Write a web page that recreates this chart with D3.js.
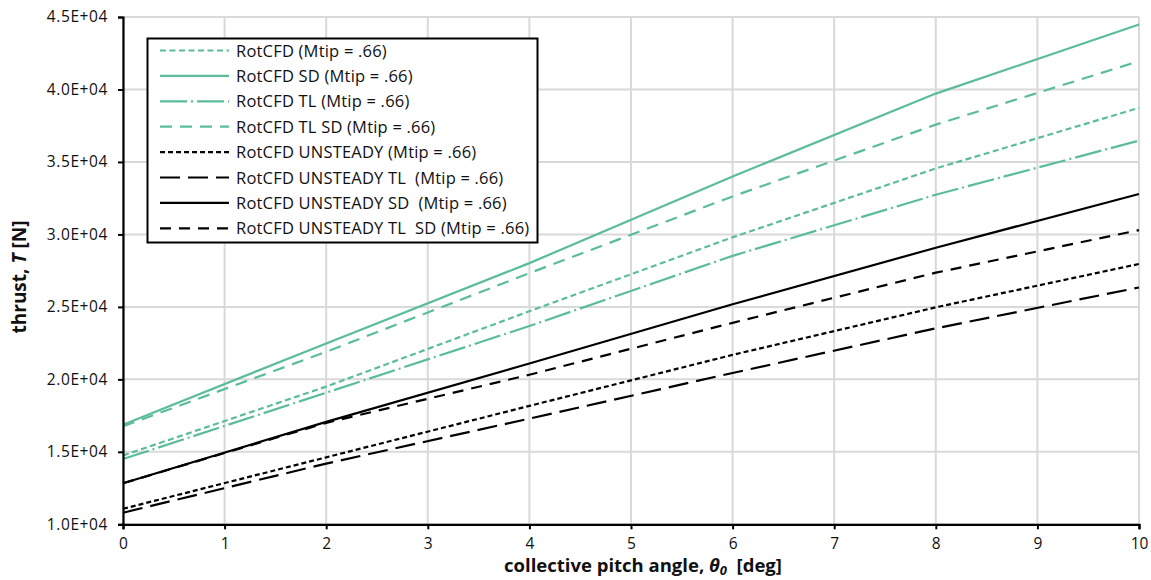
<!DOCTYPE html>
<html><head><meta charset="utf-8">
<script src="https://cdn.jsdelivr.net/npm/d3@7"></script>
<style>
body{margin:0;background:#fff;}
svg{display:block;}
</style></head>
<body>
<svg id="c" width="1151" height="580"></svg>
<script>
// ---- data ----
const pitch = [0, 2, 4, 6, 8, 10];
const rotcfd       = [14750, 19500, 24700, 29800, 34550, 38730];
const rotcfdSD     = [16870, 22480, 28020, 34000, 39716, 44480];
const rotcfdTL     = [14500, 19080, 23680, 28520, 32740, 36470];
const rotcfdTLSD   = [16760, 21900, 27330, 32620, 37575, 41950];
const unsteady     = [11070, 14620, 18170, 21690, 24970, 27960];
const unsteadyTL   = [10800, 14190, 17290, 20440, 23520, 26340];
const unsteadySD   = [12830, 17070, 21090, 25180, 29080, 32790];
const unsteadyTLSD = [12830, 17000, 20320, 23900, 27360, 30300];
const seriesNames = [
  "RotCFD (Mtip = .66)",
  "RotCFD SD (Mtip = .66)",
  "RotCFD TL (Mtip = .66)",
  "RotCFD TL SD (Mtip = .66)",
  "RotCFD UNSTEADY (Mtip = .66)",
  "RotCFD UNSTEADY TL  (Mtip = .66)",
  "RotCFD UNSTEADY SD  (Mtip = .66)",
  "RotCFD UNSTEADY TL  SD (Mtip = .66)"
];
const xTicks = [0,1,2,3,4,5,6,7,8,9,10];
const yTicks = [10000,15000,20000,25000,30000,35000,40000,45000];

// ---- styles ----
const GREEN = "#5bbd98";
const styles = [
  {c: GREEN, d: "6,3.5"},
  {c: GREEN, d: null},
  {c: GREEN, d: "27,4,2,4"},
  {c: GREEN, d: "12,8"},
  {c: "#000", d: "5,3"},
  {c: "#000", d: "20,8"},
  {c: "#000", d: null},
  {c: "#000", d: "11,8"}
];
const allSeries = [rotcfd, rotcfdSD, rotcfdTL, rotcfdTLSD, unsteady, unsteadyTL, unsteadySD, unsteadyTLSD];

const svg = d3.select("#c");
const x = d3.scaleLinear().domain([0,10]).range([123,1139]);
const y = d3.scaleLinear().domain([10000,45000]).range([524.3,17]);
const FONT = "'Open Sans', sans-serif";

// grid
svg.append("g").selectAll("line").data(xTicks).join("line")
  .attr("x1", d=>x(d)).attr("x2", d=>x(d)).attr("y1", y(10000)).attr("y2", y(45000))
  .attr("stroke", "#d9d9d9").attr("stroke-width", 2);
svg.append("g").selectAll("line").data(yTicks).join("line")
  .attr("x1", x(0)).attr("x2", x(10)).attr("y1", d=>y(d)).attr("y2", d=>y(d))
  .attr("stroke", "#d9d9d9").attr("stroke-width", 2);

// series
const line = d3.line().x((d,i)=>x(pitch[i])).y(d=>y(d));
allSeries.forEach((s,k)=>{
  svg.append("path").datum(s).attr("d", line)
    .attr("fill","none").attr("stroke", styles[k].c).attr("stroke-width", 2.2)
    .attr("stroke-dasharray", styles[k].d);
});

// axes
const fmt = d => { const e = d3.format(".1e")(d); const [m,p] = e.split("e"); return m.toUpperCase()+"E+"+String(+p).padStart(2,"0"); };
const xAxis = svg.append("g").attr("transform", `translate(0,${y(10000)})`)
  .call(d3.axisBottom(x).tickValues(xTicks).tickSize(5).tickPadding(9).tickFormat(d3.format("d")));
const yAxis = svg.append("g").attr("transform", `translate(${x(0)},0)`)
  .call(d3.axisLeft(y).tickValues(yTicks).tickSize(5).tickPadding(10).tickFormat(fmt));
[xAxis, yAxis].forEach(a=>{
  a.select(".domain").attr("stroke","#000").attr("stroke-width",2.2);
  a.selectAll(".tick line").attr("stroke","#000").attr("stroke-width",2);
  a.selectAll("text").attr("font-family", FONT).attr("font-size", 15.5).attr("fill","#111");
});
yAxis.selectAll("text").attr("letter-spacing", 0.6);

// legend
const lg = svg.append("g");
lg.append("rect").attr("x",147.5).attr("y",38.5).attr("width",390).attr("height",204)
  .attr("fill","#fff").attr("stroke","#000").attr("stroke-width",2);
seriesNames.forEach((n,k)=>{
  const yy = 50.5 + k*25.4;
  lg.append("line").attr("x1",160).attr("x2",229).attr("y1",yy).attr("y2",yy)
    .attr("stroke", styles[k].c).attr("stroke-width",2.2).attr("stroke-dasharray", styles[k].d);
  lg.append("text").attr("x",236).attr("y",yy+6).text(n)
    .attr("font-family",FONT).attr("font-size",16.5).attr("letter-spacing",0.2).attr("fill","#111")
    .attr("xml:space","preserve").style("white-space","pre");
});

// axis titles
const xt = svg.append("text").attr("x",643).attr("y",572).attr("text-anchor","middle")
  .attr("font-family",FONT).attr("font-size",18.5).attr("font-weight","bold").attr("fill","#111");
xt.append("tspan").text("collective pitch angle, ");
xt.append("tspan").attr("font-style","italic").text("θ");
xt.append("tspan").attr("font-style","italic").attr("font-size",13).attr("dy",3).text("0");
xt.append("tspan").attr("dy",-3).text("  [deg]").style("white-space","pre");

const yt = svg.append("text").attr("transform","translate(26,277) rotate(-90)").attr("text-anchor","middle")
  .attr("font-family",FONT).attr("font-size",19).attr("font-weight","bold").attr("fill","#111");
yt.append("tspan").text("thrust, ");
yt.append("tspan").attr("font-style","italic").text("T");
yt.append("tspan").text(" [N]");
</script>
</body></html>
